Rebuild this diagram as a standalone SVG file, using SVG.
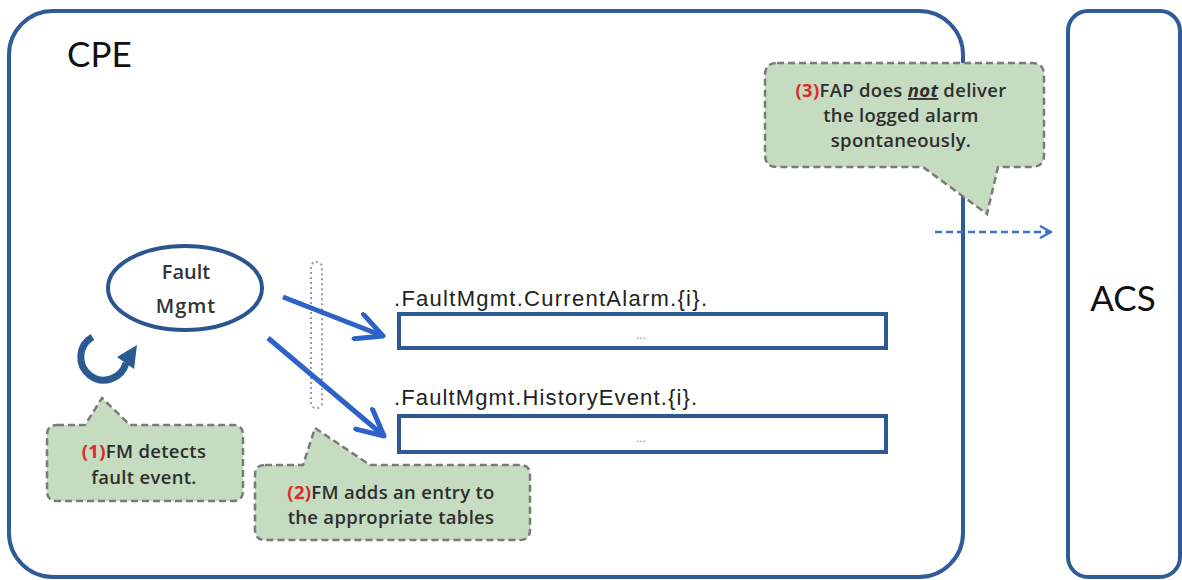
<svg xmlns="http://www.w3.org/2000/svg" width="1182" height="580" viewBox="0 0 1182 580">
  <style>
    .frame { fill: #ffffff; stroke: #2f5c96; stroke-width: 4; }
    .table { fill: #ffffff; stroke: #2d5a93; stroke-width: 4; }
    .callout { fill: #c5dcc0; stroke: #7a7a7a; stroke-width: 2.5; stroke-dasharray: 7 4; }
    .ctext { font-family: "Open Sans", "Liberation Sans", sans-serif; font-size: 18.5px; font-weight: 600; fill: #2e2e2e; text-anchor: middle; letter-spacing: 0.3px; }
    .num { fill: #e0282a; font-weight: 700; }
    .big { font-family: "Lato", "Open Sans", "Liberation Sans", sans-serif; font-size: 35px; fill: #111111; }
    .label { font-family: "Liberation Sans", Arial, sans-serif; font-size: 22px; fill: #222222; }
    .dots { font-family: "Liberation Sans", Arial, sans-serif; font-size: 12px; fill: #888888; text-anchor: middle; }
    .bluearrow { fill: none; stroke: #2d63c8; stroke-width: 5; }
    .fm { font-family: "Open Sans", "Liberation Sans", sans-serif; font-size: 20px; font-weight: 600; fill: #333333; text-anchor: middle; }
  </style>
  <defs>
    <marker id="vhead" viewBox="0 0 34 30" refX="30" refY="15" markerWidth="34" markerHeight="30" markerUnits="userSpaceOnUse" orient="auto">
      <path d="M4,2 L30,15 L4,28" fill="none" stroke="#2d63c8" stroke-width="5" stroke-linejoin="round" stroke-linecap="round"/>
    </marker>
    <marker id="vsmall" viewBox="0 0 16 16" refX="14" refY="8" markerWidth="16" markerHeight="16" markerUnits="userSpaceOnUse" orient="auto">
      <path d="M3,2 L14,8 L3,14" fill="none" stroke="#3a72c6" stroke-width="2.5" stroke-linejoin="round"/>
    </marker>
  </defs>

  <g id="cpe">
    <rect class="frame" x="9" y="11" width="954" height="566" rx="44" ry="44"/>
    <text class="big" x="67" y="67">CPE</text>
  </g>

  <g id="acs">
    <rect class="frame" x="1068" y="11" width="112" height="566" rx="20" ry="20"/>
    <text class="big" x="1123" y="311" text-anchor="middle" font-size="33">ACS</text>
  </g>

  <g id="fault-mgmt">
    <ellipse cx="185" cy="288" rx="77" ry="42" fill="#ffffff" stroke="#2a5590" stroke-width="4"/>
    <text class="fm" x="186" y="279">Fault</text>
    <text class="fm" x="186" y="313" letter-spacing="1">Mgmt</text>
  </g>

  <g id="loop-arrow">
    <path d="M92.5,337 A23,23 0 1 0 126,363" fill="none" stroke="#2b5a92" stroke-width="7"/>
    <polygon points="137,345 117,357 134,369" fill="#2b5a92"/>
  </g>

  <g id="separator">
    <rect x="311" y="262" width="11" height="146" rx="5" ry="5" fill="none" stroke="#9a96b4" stroke-width="2" stroke-dasharray="2 3"/>
  </g>

  <g id="current-alarm">
    <text class="label" x="394" y="306" textLength="313" lengthAdjust="spacing">.FaultMgmt.CurrentAlarm.{i}.</text>
    <rect class="table" x="399" y="314" width="487" height="34"/>
    <text class="dots" x="641" y="339">...</text>
  </g>

  <g id="history-event">
    <text class="label" x="394" y="405" textLength="303" lengthAdjust="spacing">.FaultMgmt.HistoryEvent.{i}.</text>
    <rect class="table" x="399" y="416" width="487" height="36"/>
    <text class="dots" x="641" y="442">...</text>
  </g>

  <g id="connectors">
    <line class="bluearrow" x1="283" y1="297" x2="383" y2="336" marker-end="url(#vhead)"/>
    <line class="bluearrow" x1="268" y1="338" x2="384" y2="436" marker-end="url(#vhead)"/>
    <line x1="935" y1="232" x2="1051" y2="232" stroke="#3a72c6" stroke-width="2.5" stroke-dasharray="7 4" marker-end="url(#vsmall)"/>
  </g>

  <g id="callout-1">
    <path class="callout" d="M57,425 L85,425 L102,398 L130,425 L233,425 Q243,425 243,435 L243,491 Q243,501 233,501 L57,501 Q47,501 47,491 L47,435 Q47,425 57,425 Z"/>
    <text class="ctext" x="144" y="458"><tspan class="num">(1)</tspan>FM detects</text>
    <text class="ctext" x="144" y="484">fault event.</text>
  </g>

  <g id="callout-2">
    <path class="callout" d="M265,465 L303,465 L315,428 L370,465 L520,465 Q530,465 530,475 L530,530 Q530,540 520,540 L265,540 Q255,540 255,530 L255,475 Q255,465 265,465 Z"/>
    <text class="ctext" x="391" y="499"><tspan class="num">(2)</tspan>FM adds an entry to</text>
    <text class="ctext" x="391" y="524">the appropriate tables</text>
  </g>

  <g id="callout-3">
    <path class="callout" d="M777,63 L1032,63 Q1044,63 1044,75 L1044,155 Q1044,167 1032,167 L998,167 L987,214 L923,167 L777,167 Q765,167 765,155 L765,75 Q765,63 777,63 Z"/>
    <text class="ctext" x="901" y="97"><tspan class="num">(3)</tspan>FAP does <tspan font-style="italic" font-weight="700" text-decoration="underline">not</tspan> deliver</text>
    <text class="ctext" x="901" y="122">the logged alarm</text>
    <text class="ctext" x="901" y="147">spontaneously.</text>
  </g>
</svg>
